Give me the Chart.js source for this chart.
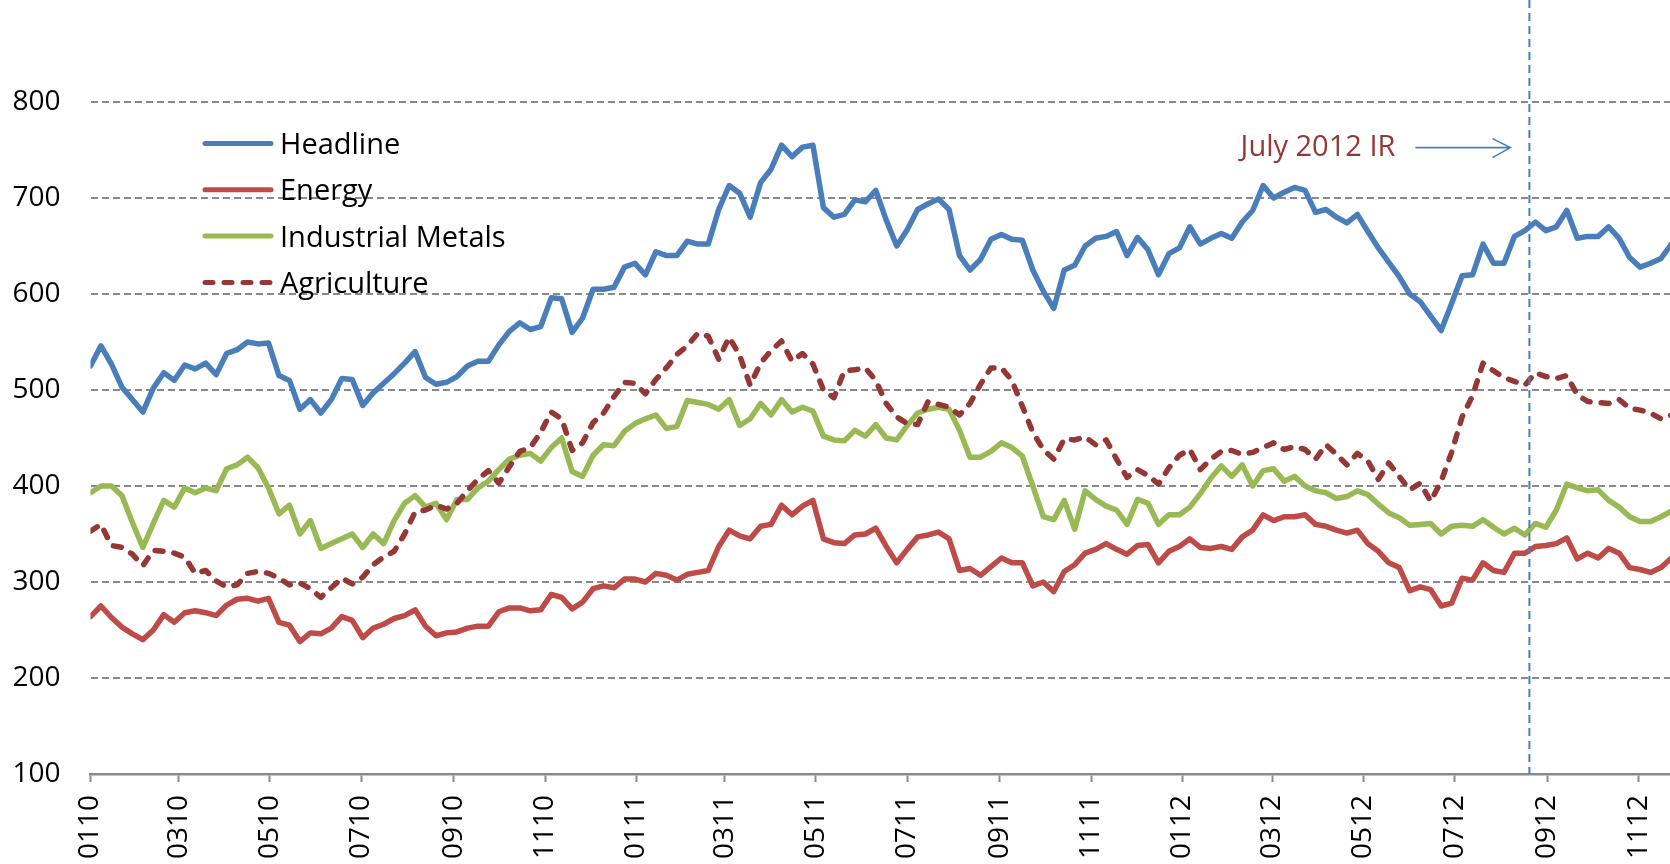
<!DOCTYPE html>
<html>
<head>
<meta charset="utf-8">
<script src="https://cdn.jsdelivr.net/npm/chart.js@4.4.0/dist/chart.umd.min.js"></script>
<style>
  html, body { margin: 0; padding: 0; background: #fff; overflow: hidden; }
  #wrap { width: 1670px; height: 864px; position: relative; overflow: hidden; }
</style>
</head>
<body>
<div id="wrap"><canvas id="myChart"></canvas></div>
<script>
// weekly observations, first one on 1 Jan 2010 (x = days since then)
var startDate = Date.UTC(2010, 0, 1);
var dayMs = 86400000;
var weekDays = [];
for (var i = 0; i < 152; i++) weekDays.push(i * 7);

var headline = [
    525, 546, 527, 503, 490, 477, 502, 518, 510, 526,
    522, 528, 516, 538, 542, 550, 548, 549, 515, 510,
    480, 490, 476, 490, 512, 511, 484, 497, 507, 517,
    528, 540, 513, 506, 508, 514, 525, 530, 530, 547,
    561, 570, 563, 566, 596, 595, 560, 575, 605, 605,
    607, 628, 632, 620, 644, 640, 640, 655, 652, 652,
    688, 713, 705, 680, 716, 730, 755, 743, 753, 755,
    690, 680, 683, 698, 696, 708, 677, 650, 667, 688,
    694, 699, 688, 640, 625, 636, 657, 662, 657, 656,
    625, 603, 585, 625, 630, 650, 658, 660, 665, 640,
    659, 646, 620, 642, 648, 670, 652, 658, 663, 658,
    675, 687, 713, 700, 706, 711, 708, 685, 688, 680,
    674, 683, 665, 648, 633, 618, 600, 592, 577, 562,
    590, 619, 620, 652, 632, 632, 660, 666, 675, 666,
    670, 687, 658, 660, 660, 670, 658, 638, 628, 632,
    637, 652
];
var energy = [
    264, 275, 263, 253, 246, 240, 250, 266, 258, 268,
    270, 268, 265, 276, 282, 283, 280, 283, 258, 255,
    238, 247, 246, 252, 264, 260, 242, 252, 256, 262,
    265, 271, 254, 244, 247, 248, 252, 254, 254, 269,
    273, 273, 270, 271, 287, 284, 272, 279, 293, 296,
    294, 303, 303, 300, 309, 307, 302, 308, 310, 312,
    337, 354, 348, 345, 358, 360, 380, 370, 379, 385,
    345, 341, 340, 349, 350, 356, 337, 320, 334, 347,
    349, 352, 345, 312, 314, 307, 316, 325, 320, 320,
    296, 300, 290, 311, 318, 330, 334, 340, 334, 329,
    338, 339, 320, 332, 337, 345, 336, 335, 337, 334,
    347, 354, 370, 364, 368, 368, 370, 360, 358, 354,
    351, 354, 340, 332, 320, 315, 291, 295, 292, 275,
    278, 304, 302, 320, 312, 310, 330, 330, 337, 338,
    340, 346, 324, 330, 325, 335, 330, 315, 313, 310,
    315, 325
];
var metals = [
    393, 400, 400, 390, 362, 336, 361, 385, 378, 398,
    393, 398, 395, 418, 422, 430, 419, 398, 371, 380,
    350, 364, 335, 340, 345, 350, 336, 350, 340, 364,
    382, 390, 378, 382, 365, 386, 386, 398, 405, 417,
    428, 432, 434, 426, 440, 450, 415, 410, 432, 443,
    442, 457, 465, 470, 474, 460, 462, 489, 487, 485,
    480, 490, 463, 470, 486, 474, 490, 477, 482, 478,
    452, 448, 447, 458, 452, 464, 450, 448, 463, 476,
    480, 482, 480, 458, 430, 430, 436, 445, 440, 431,
    400, 368, 365, 385, 355, 395, 386, 379, 375, 360,
    386, 382, 360, 370, 370, 378, 392, 408, 421, 410,
    422, 400, 416, 418, 405, 410, 400, 395, 393, 387,
    389, 395, 391, 381, 372, 367, 359, 360, 361, 350,
    358, 359, 358, 365, 357, 350, 356, 349, 361, 357,
    375, 402, 398, 395, 396, 385, 378, 368, 363, 363,
    368, 374
];
var agriculture = [
    353, 360, 338, 336, 329, 317, 333, 332, 330, 326,
    309, 312, 301, 295, 297, 309, 311, 309, 304, 297,
    299, 293, 284, 294, 304, 298, 305, 318, 326, 332,
    350, 373, 375, 380, 376, 382, 395, 407, 416, 403,
    420, 436, 440, 456, 477, 470, 437, 445, 466, 476,
    493, 508, 507, 496, 511, 523, 537, 546, 559, 556,
    532, 555, 536, 505, 528, 541, 551, 530, 538, 527,
    500, 492, 520, 521, 523, 510, 486, 472, 465, 464,
    488, 485, 482, 474, 486, 506, 523, 523, 510, 483,
    456, 438, 428, 449, 448, 451, 443, 448, 428, 409,
    417, 411, 402, 419, 432, 438, 417, 428, 436, 437,
    433, 435, 440, 445, 438, 441, 438, 428, 443, 433,
    422, 434, 426, 407, 424, 410, 396, 403, 384, 405,
    435, 472, 494, 528, 520, 513, 509, 505, 518, 514,
    512, 515, 495, 488, 487, 486, 490, 481, 479, 476,
    470, 474
];

// MMYY labels, one every two months
var tickLabels = ["0110", "0310", "0510", "0710", "0910", "1110",
                  "0111", "0311", "0511", "0711", "0911", "1111",
                  "0112", "0312", "0512", "0712", "0912", "1112"];
var yTicks = [100, 200, 300, 400, 500, 600, 700, 800];
var markerDate = Date.UTC(2012, 7, 20);   // July 2012 IR line
var markerLabel = "July 2012 IR";

function dayOf(label) {
    var m = parseInt(label.slice(0, 2), 10) - 1;
    var y = 2000 + parseInt(label.slice(2), 10);
    return (Date.UTC(y, m, 1) - startDate) / dayMs;
}
var tickDays = tickLabels.map(dayOf);
var markerDay = (markerDate - startDate) / dayMs;

function pts(values) {
    return values.map(function(v, i) { return {x: weekDays[i], y: v}; });
}

var gridGrey = '#8a8a8a';

// legend + IR marker drawn by hand
var extras = {
    id: 'extras',
    afterDatasetsDraw: function(chart) {
        var ctx = chart.ctx;
        var area = chart.chartArea;
        var xs = chart.scales.x, ys = chart.scales.y;
        ctx.save();

        // legend
        ctx.font = '29px "Open Sans"';
        ctx.textBaseline = 'alphabetic';
        ctx.textAlign = 'left';
        chart.data.datasets.forEach(function(ds, i) {
            var y = 143.5 + i * 46.3;
            ctx.beginPath();
            ctx.lineWidth = 5;
            ctx.strokeStyle = ds.borderColor;
            ctx.lineCap = 'round';
            ctx.setLineDash(ds.borderDash || []);
            ctx.moveTo(205, y);
            ctx.lineTo(271, y);
            ctx.stroke();
            ctx.setLineDash([]);
            ctx.fillStyle = '#000';
            ctx.fillText(ds.label, 280, y + 10.5);
        });

        // vertical dashed line
        var mx = xs.getPixelForValue(markerDay);
        ctx.beginPath();
        ctx.lineWidth = 2;
        ctx.lineCap = 'butt';
        ctx.strokeStyle = '#4a7ebb';
        ctx.setLineDash([8, 5]);
        ctx.moveTo(mx, 0);
        ctx.lineTo(mx, area.bottom);
        ctx.stroke();
        ctx.setLineDash([]);

        // label + arrow
        var ty = ys.getPixelForValue(744);
        var ay = ys.getPixelForValue(752.5);
        ctx.fillStyle = '#953735';
        ctx.textAlign = 'right';
        ctx.fillText(markerLabel, mx - 134, ty);
        ctx.beginPath();
        ctx.lineWidth = 1.6;
        ctx.strokeStyle = '#4a7ebb';
        ctx.moveTo(mx - 114, ay);
        ctx.lineTo(mx - 19, ay);
        ctx.moveTo(mx - 37, ay - 9);
        ctx.lineTo(mx - 19, ay);
        ctx.lineTo(mx - 37, ay + 10);
        ctx.stroke();
        ctx.restore();
    }
};

var ctx = document.getElementById("myChart");
var myChart = new Chart(ctx, {
    type: 'line',
    data: {
        datasets: [
            {
                label: "Headline",
                data: pts(headline),
                borderColor: '#4a7ebb',
                borderWidth: 5.5,
                order: 3
            },
            {
                label: "Energy",
                data: pts(energy),
                borderColor: '#be4b48',
                borderWidth: 5.5,
                order: 2
            },
            {
                label: "Industrial Metals",
                data: pts(metals),
                borderColor: '#98b954',
                borderWidth: 5.5,
                order: 1
            },
            {
                label: "Agriculture",
                data: pts(agriculture),
                borderColor: '#953735',
                borderWidth: 5.5,
                borderDash: [8, 11],
                borderCapStyle: 'round',
                order: 0
            }
        ]
    },
    options: {
        responsive: true,
        maintainAspectRatio: false,
        animation: false,
        devicePixelRatio: 1,
        layout: { padding: { top: 102, right: 0, left: 0, bottom: 0 } },
        elements: {
            point: { radius: 0 },
            line: { tension: 0, borderJoinStyle: 'round', borderCapStyle: 'round', fill: false }
        },
        plugins: {
            legend: { display: false },
            tooltip: { enabled: false }
        },
        scales: {
            x: {
                type: 'linear',
                min: 0,
                max: 1056,
                afterBuildTicks: function(scale) {
                    scale.ticks = tickDays.map(function(d) { return {value: d}; });
                },
                afterFit: function(scale) {
                    scale.height = 90;
                    scale.paddingLeft = 0;
                    scale.paddingRight = 0;
                },
                ticks: {
                    autoSkip: false,
                    maxRotation: 90,
                    minRotation: 90,
                    padding: 13,
                    color: '#000',
                    font: { family: '"Open Sans"', size: 28 },
                    callback: function(value, index) { return tickLabels[index]; }
                },
                grid: {
                    drawOnChartArea: false,
                    drawTicks: true,
                    tickLength: 8,
                    tickColor: gridGrey,
                    tickWidth: 2
                },
                border: { display: true, color: gridGrey, width: 2.5 }
            },
            y: {
                type: 'linear',
                min: 100,
                max: 800,
                afterBuildTicks: function(scale) {
                    scale.ticks = yTicks.map(function(v) { return {value: v}; });
                },
                afterFit: function(scale) {
                    scale.width = 90.5;
                    scale.paddingTop = 0;
                    scale.paddingBottom = 0;
                },
                ticks: {
                    padding: 30,
                    color: '#000',
                    font: { family: '"Open Sans"', size: 28 }
                },
                grid: {
                    drawTicks: false,
                    lineWidth: 2,
                    color: function(c) { return c.tick && c.tick.value === 100 ? 'rgba(0,0,0,0)' : gridGrey; }
                },
                border: { display: false, dash: [7, 4] }
            }
        }
    },
    plugins: [extras]
});
</script>
</body>
</html>
